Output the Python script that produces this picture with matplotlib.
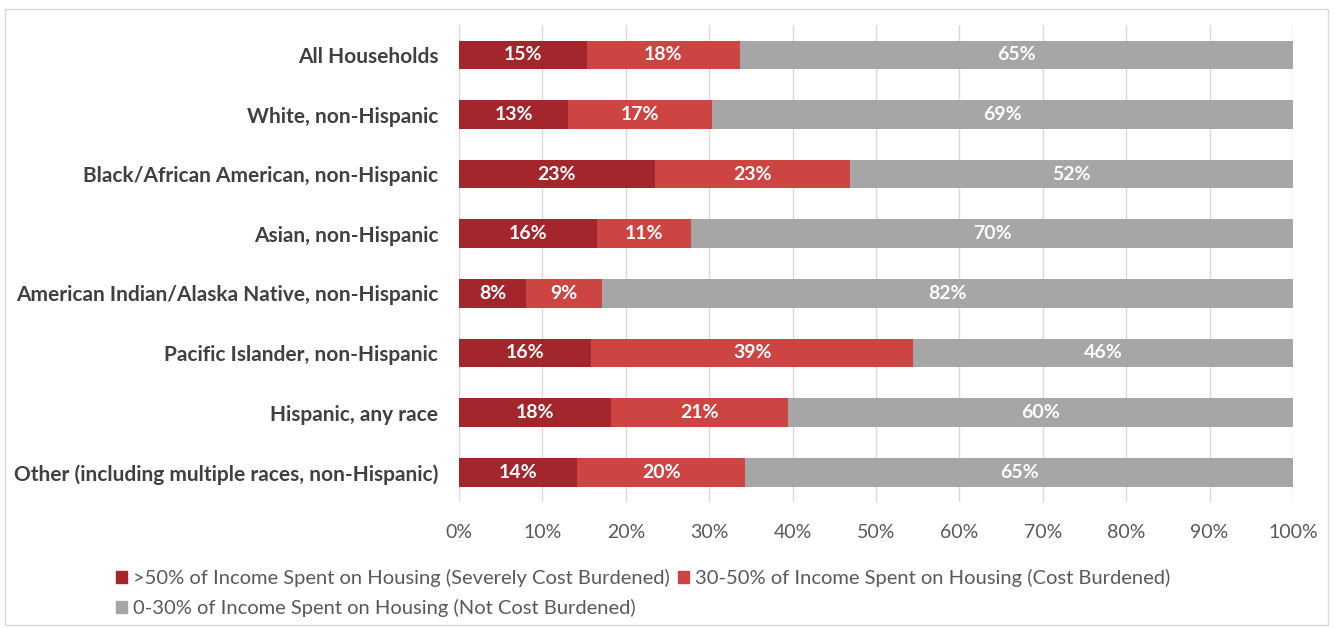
import matplotlib
matplotlib.use("Agg")
import matplotlib.pyplot as plt
import numpy as np
from matplotlib.patches import Rectangle, Patch

plt.rcParams['font.family'] = ['Lato', 'DejaVu Sans']

groups = [
    "All Households",
    "White, non-Hispanic",
    "Black/African American, non-Hispanic",
    "Asian, non-Hispanic",
    "American Indian/Alaska Native, non-Hispanic",
    "Pacific Islander, non-Hispanic",
    "Hispanic, any race",
    "Other (including multiple races, non-Hispanic)",
]
severe = [15, 13, 23, 16, 8, 16, 18, 14]
burdened = [18, 17, 23, 11, 9, 39, 21, 20]
not_burdened = [65, 69, 52, 70, 82, 46, 60, 65]

series_names = [
    ">50% of Income Spent on Housing (Severely Cost Burdened)",
    "30-50% of Income Spent on Housing (Cost Burdened)",
    "0-30% of Income Spent on Housing (Not Cost Burdened)",
]
colors = ["#A3262D", "#CD4543", "#A6A6A6"]

series = np.array([severe, burdened, not_burdened], dtype=float)
shares = series / series.sum(axis=0) * 100  # 100% stacked

fig = plt.figure(figsize=(13.35, 6.28), dpi=100)
ax = fig.add_axes([0.3438, 0.2006, 0.6247, 0.7594])

# light frame around the whole chart
fig.patches.append(Rectangle((0.004, 0.005), 0.991, 0.98, transform=fig.transFigure,
                             fill=False, edgecolor="#D9D9D9", linewidth=1))

y = np.arange(len(groups))
left = np.zeros(len(groups))
for vals, pct, col in zip(series, shares, colors):
    ax.barh(y, pct, left=left, height=0.48, color=col, zorder=2)
    for yi, l, w, v in zip(y, left, pct, vals):
        ax.text(l + w / 2, yi, f"{v:.0f}%", ha="center", va="center",
                color="white", fontsize=14, fontweight="bold", zorder=3)
    left += pct

ax.set_xlim(0, 100)
ax.set_ylim(len(groups) - 0.5, -0.5)
ax.set_xticks(np.arange(0, 101, 10))
ax.set_xticklabels([f"{t}%" for t in range(0, 101, 10)])
ax.set_yticks(y)
ax.set_yticklabels(groups, fontweight="bold")
ax.tick_params(axis="x", length=0, pad=16, labelsize=14, labelcolor="#595959")
ax.tick_params(axis="y", length=0, pad=15, labelsize=15, labelcolor="#404040")
ax.grid(axis="x", color="#D9D9D9", linewidth=1, zorder=0)
ax.set_axisbelow(True)
for s in ax.spines.values():
    s.set_visible(False)

handles = [Patch(color=c) for c in colors]
order = [0, 2, 1]
fig.legend([handles[i] for i in order], [series_names[i] for i in order],
           ncol=2, loc="upper left", bbox_to_anchor=(0.081, 0.107),
           frameon=False, fontsize=14.5, labelcolor="#595959",
           handlelength=0.55, handleheight=0.55, handletextpad=0.3,
           columnspacing=0.4, labelspacing=0.6, borderaxespad=0)

fig.savefig("out.png", dpi=100, facecolor="white")
